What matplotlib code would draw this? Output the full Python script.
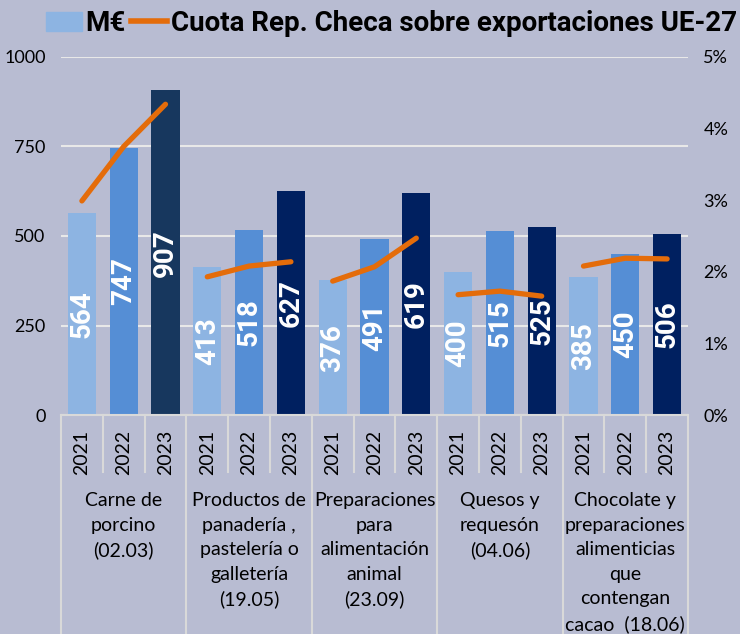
"""Exportaciones checas por producto (M€) y cuota sobre exportaciones UE-27."""

import numpy as np
from matplotlib import pyplot
from matplotlib.patches import Patch
from matplotlib.lines import Line2D
from matplotlib.ticker import FuncFormatter

# Data.
categories = [
    'Carne de\nporcino\n(02.03)',
    'Productos de\npanadería ,\npastelería o\ngalletería\n(19.05)',
    'Preparaciones\npara\nalimentación\nanimal\n(23.09)',
    'Quesos y\nrequesón\n(04.06)',
    'Chocolate y\npreparaciones\nalimenticias\nque\ncontengan\ncacao  (18.06)',
]
years = ['2021', '2022', '2023']
values_meur = [
    [564, 747, 907],
    [413, 518, 627],
    [376, 491, 619],
    [400, 515, 525],
    [385, 450, 506],
]
share_pct = [
    [2.99, 3.75, 4.34],
    [1.93, 2.08, 2.14],
    [1.87, 2.07, 2.47],
    [1.68, 1.73, 1.66],
    [2.08, 2.19, 2.18],
]

bg = '#b8bcd2'
year_colors = ['#8db4e2', '#558ed5', '#002060']
first_dark = '#17375e'
orange = '#e46c0a'
sep_color = '#d9d9d9'
bold_family = ['Roboto', 'DejaVu Sans']

pyplot.rc('font', family=['Lato', 'DejaVu Sans'], size=12)

W, H = 740, 634
fig = pyplot.figure(figsize=(W / 100, H / 100), dpi=100)
fig.patch.set_facecolor(bg)
ax = fig.add_axes([61 / W, (H - 415) / H, 627 / W, 358 / H])
ax.set_facecolor(bg)

n_years = len(years)
n_groups = len(categories)
x = np.arange(n_groups * n_years)
vals = np.array(values_meur).ravel()
colors = [year_colors[i % n_years] for i in range(len(x))]
colors[2] = first_dark

ax.bar(x, vals, width=0.67, color=colors, zorder=2)
for xi, v in zip(x, vals):
    ax.text(xi, v / 2, f'{v}', rotation=90, ha='center', va='center',
            color='white', fontsize=20, fontweight='bold',
            family=bold_family, zorder=4)

ax.set_xlim(-0.5, len(x) - 0.5)
ax.set_ylim(0, 1000)
ax.set_yticks([0, 250, 500, 750, 1000])
ax.yaxis.grid(True, color='#e8e8e8', linewidth=1.5, zorder=0)
ax.set_axisbelow(True)
ax.tick_params(axis='y', length=0, pad=11, labelsize=13)
ax.set_xticks([])
for side in ['top', 'right', 'left']:
    ax.spines[side].set_visible(False)
ax.spines['bottom'].set_color(sep_color)
ax.spines['bottom'].set_linewidth(1.5)

# Share on the secondary axis.
ax2 = ax.twinx()
ax2.set_ylim(0, 5)
ax2.set_yticks([0, 1, 2, 3, 4, 5])
ax2.yaxis.set_major_formatter(FuncFormatter(lambda v, _: f'{v:.0f}%'))
ax2.tick_params(axis='y', length=0, pad=11, labelsize=13)
for side in ax2.spines:
    ax2.spines[side].set_visible(False)
for g in range(n_groups):
    xs = x[g * n_years:(g + 1) * n_years]
    ax2.plot(xs, share_pct[g], color=orange, linewidth=3.8,
             solid_capstyle='round', zorder=5)

# Multi-level category axis.
trans = ax.get_xaxis_transform()
for i in range(len(x) + 1):
    xe = i - 0.5
    bottom = -0.612 if i % n_years == 0 else -0.16
    ax.plot([xe, xe], [0, bottom], transform=trans, color=sep_color,
            linewidth=1.5, clip_on=False)
for xi in x:
    ax.text(xi, -0.042, years[xi % n_years], transform=trans, rotation=90,
            ha='center', va='top', fontsize=14)
for g, label in enumerate(categories):
    ax.text(g * n_years + 1, -0.215, label, transform=trans, ha='center',
            va='top', fontsize=14, linespacing=1.54)

handles = [Patch(color=year_colors[0]),
           Line2D([], [], color=orange, linewidth=4)]
fig.legend(handles, ['M€', 'Cuota Rep. Checa sobre exportaciones UE-27'],
           loc='upper left', bbox_to_anchor=(46 / W, 1 - 10 / H), ncol=2,
           frameon=False, prop={'weight': 'bold', 'size': 20,
                                'family': bold_family},
           handlelength=1.3, handletextpad=0.12, columnspacing=0.2,
           borderpad=0, borderaxespad=0)

fig.savefig('out.png', dpi=100, facecolor=bg)
